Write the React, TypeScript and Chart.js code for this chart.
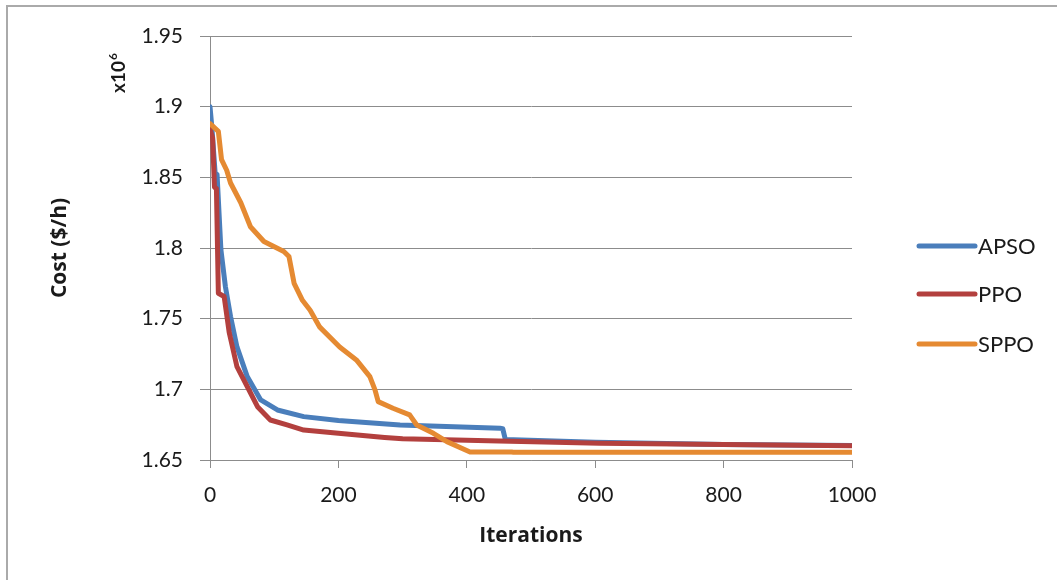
import React, { useEffect, useRef } from "react";
import { Chart, registerables } from "chart.js";

Chart.register(...registerables);

// ---- data ----
const apsoIter = [0, 3, 8, 11, 17, 24, 32, 42, 58, 79, 105, 146, 200, 296, 452, 456, 460, 600, 800, 1000];
const apsoCost = [1.9, 1.885, 1.853, 1.852, 1.7987, 1.7727, 1.7515, 1.730, 1.709, 1.6925, 1.6854, 1.6807, 1.678, 1.6748, 1.6724, 1.6722, 1.6645, 1.6625, 1.661, 1.6602];

const ppoIter = [0, 4, 7, 10, 13, 22, 30, 42, 58, 74, 94, 120, 146, 200, 272, 300, 450, 607, 800, 1000];
const ppoCost = [1.884, 1.878, 1.843, 1.842, 1.768, 1.7657, 1.740, 1.716, 1.702, 1.6877, 1.6783, 1.6748, 1.6712, 1.669, 1.666, 1.665, 1.6635, 1.6618, 1.661, 1.6601];

const sppoIter = [0, 13, 18, 26, 32, 48, 63, 84, 115, 123, 131, 144, 156, 171, 202, 228, 249, 257, 262, 285, 311, 322, 348, 369, 405, 470, 473, 1000];
const sppoCost = [1.888, 1.8825, 1.8625, 1.855, 1.846, 1.832, 1.815, 1.8046, 1.7975, 1.794, 1.775, 1.763, 1.756, 1.744, 1.730, 1.7208, 1.709, 1.6996, 1.6913, 1.6866, 1.6819, 1.6748, 1.6689, 1.663, 1.6557, 1.6557, 1.6554, 1.6554];

const seriesNames = ["APSO", "PPO", "SPPO"];
const seriesColors = ["#4a7ebb", "#b3403e", "#e58a32"];
const xTicksMin = 0;
const xTicksMax = 1000;
const xTickStep = 200;
const yTicksMin = 1.65;
const yTicksMax = 1.95;
const yTickStep = 0.05;

const FONT = "Lato, 'Liberation Sans', sans-serif";
const TITLE_FONT = "'Open Sans', 'Liberation Sans', sans-serif";
const GRID = "#8c8c8c";

const toPoints = (xs: number[], ys: number[]) => xs.map((x, i) => ({ x, y: ys[i] }));

const decorPlugin = {
  id: "decor",
  beforeDraw(chart: any) {
    const ctx = chart.ctx;
    ctx.save();
    ctx.fillStyle = "#ffffff";
    ctx.fillRect(0, 0, chart.width, chart.height);
    ctx.strokeStyle = "#aaaaaa";
    ctx.lineWidth = 2;
    ctx.beginPath();
    ctx.moveTo(7, chart.height);
    ctx.lineTo(7, 6);
    ctx.lineTo(chart.width, 6);
    ctx.stroke();
    ctx.restore();
  },
  afterDraw(chart: any) {
    const ctx = chart.ctx;
    // x10^6 multiplier label
    ctx.save();
    ctx.translate(125, 93);
    ctx.rotate(-Math.PI / 2);
    ctx.fillStyle = "#1a1a1a";
    ctx.textBaseline = "alphabetic";
    ctx.textAlign = "left";
    ctx.font = `bold 19px ${FONT}`;
    ctx.fillText("x10", 0, 0);
    const w = ctx.measureText("x10").width;
    ctx.font = `bold 12px ${FONT}`;
    ctx.fillText("6", w + 1, -8);
    ctx.restore();

    // legend
    const ys = [246, 294, 344];
    ctx.save();
    chart.data.datasets.forEach((ds: any, i: number) => {
      ctx.strokeStyle = ds.borderColor;
      ctx.lineWidth = 5;
      ctx.lineCap = "round";
      ctx.beginPath();
      ctx.moveTo(919, ys[i]);
      ctx.lineTo(975, ys[i]);
      ctx.stroke();
      ctx.fillStyle = "#1a1a1a";
      ctx.font = `22px ${FONT}`;
      ctx.textBaseline = "middle";
      ctx.textAlign = "left";
      ctx.fillText(ds.label, 978, ys[i] + 1);
    });
    ctx.restore();
  },
};

export default function App() {
  const ref = useRef<HTMLCanvasElement | null>(null);

  useEffect(() => {
    if (!ref.current) return;
    const chart = new Chart(ref.current, {
      type: "line",
      data: {
        datasets: [
          { label: seriesNames[0], data: toPoints(apsoIter, apsoCost), borderColor: seriesColors[0], order: 3 },
          { label: seriesNames[1], data: toPoints(ppoIter, ppoCost), borderColor: seriesColors[1], order: 2 },
          { label: seriesNames[2], data: toPoints(sppoIter, sppoCost), borderColor: seriesColors[2], order: 1 },
        ].map((d) => ({
          ...d,
          backgroundColor: d.borderColor,
          borderWidth: 5,
          pointRadius: 0,
          tension: 0,
          fill: false,
          borderJoinStyle: "round" as const,
          borderCapStyle: "round" as const,
        })),
      },
      plugins: [decorPlugin],
      options: {
        animation: false,
        responsive: false,
        layout: { padding: { left: 0, right: 205, top: 36, bottom: 0 } },
        plugins: { legend: { display: false }, tooltip: { enabled: false } },
        scales: {
          x: {
            type: "linear",
            min: xTicksMin,
            max: xTicksMax,
            afterFit: (s: any) => {
              s.height = 120;
            },
            ticks: {
              stepSize: xTickStep,
              padding: 15,
              color: "#1a1a1a",
              font: { family: FONT, size: 21 },
              maxRotation: 0,
              callback: (v: any) => String(Math.round(Number(v))),
            },
            grid: { drawOnChartArea: false, drawTicks: true, tickLength: 8, color: GRID },
            border: { display: true, color: GRID, width: 1 },
            title: {
              display: true,
              text: "Iterations",
              color: "#1a1a1a",
              font: { family: TITLE_FONT, size: 21, weight: "bold" },
              padding: { top: 0, bottom: 31 },
            },
          },
          y: {
            type: "linear",
            min: yTicksMin,
            max: yTicksMax,
            afterFit: (s: any) => {
              s.width = 210;
            },
            ticks: {
              stepSize: yTickStep,
              padding: 17,
              color: "#1a1a1a",
              font: { family: FONT, size: 21 },
              callback: (v: any) => String(Number(Number(v).toFixed(2))),
            },
            grid: { drawTicks: true, tickLength: 10, color: GRID },
            border: { display: true, color: GRID, width: 1 },
            title: {
              display: true,
              text: "Cost ($/h)",
              color: "#1a1a1a",
              font: { family: TITLE_FONT, size: 21, weight: "bold" },
              padding: { top: 47, bottom: 0 },
            },
          },
        },
      },
    } as any);
    return () => chart.destroy();
  }, []);

  return (
    <div style={{ position: "fixed", left: 0, top: 0, width: 1057, height: 580, background: "#fff" }}>
      <canvas ref={ref} width={1057} height={580} style={{ display: "block" }} />
    </div>
  );
}
